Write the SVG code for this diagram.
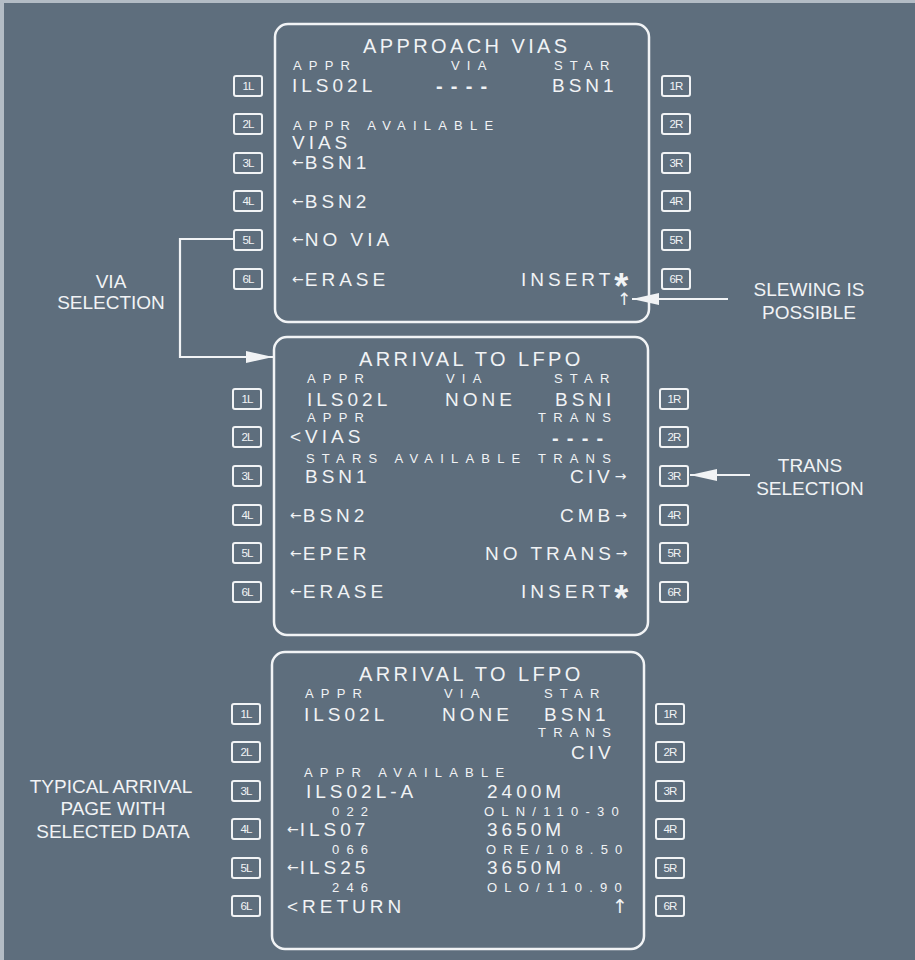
<svg xmlns="http://www.w3.org/2000/svg" width="915" height="960" viewBox="0 0 915 960">
<style>
text{font-family:"Liberation Sans",Arial,sans-serif;fill:#f1f3f5}
.scr{fill:none;stroke:#f1f3f5;stroke-width:2.5}
.btn{fill:none;stroke:#f1f3f5;stroke-width:2}
.bt{font-size:11.5px;letter-spacing:-0.8px;text-anchor:middle}
.ti{font-size:20px;letter-spacing:3.4px}
.sm{font-size:13px;letter-spacing:7.2px}
.bg{font-size:19px;letter-spacing:4px}
.ds{font-size:20px;font-weight:bold;letter-spacing:8.2px}
.ar{font-family:"DejaVu Sans",sans-serif;font-size:14px;letter-spacing:1px}
.up{font-family:"DejaVu Sans",sans-serif;text-anchor:middle}
.st{font-size:36px;font-weight:bold}
.lb{font-size:19px;text-anchor:middle}
.cn{fill:none;stroke:#f1f3f5;stroke-width:2.2}
</style>
<defs>
<marker id="ah" markerUnits="userSpaceOnUse" markerWidth="28" markerHeight="14" refX="27" refY="6" orient="auto">
<path d="M0,0 L27,6 L0,12 z" fill="#f1f3f5"/>
</marker>
</defs>
<rect width="915" height="960" fill="#b3bcc5"/>
<rect x="4" y="3" width="911" height="957" fill="#5e6e7d"/>

<g id="screen-approach-vias">
<rect class="scr" x="275" y="24" width="374" height="298" rx="13"/>
<g>
<rect class="btn" x="234" y="76" width="28" height="20" rx="2"/><text class="bt" x="248" y="90">1L</text>
<rect class="btn" x="234" y="114" width="28" height="20" rx="2"/><text class="bt" x="248" y="128">2L</text>
<rect class="btn" x="234" y="153" width="28" height="20" rx="2"/><text class="bt" x="248" y="167">3L</text>
<rect class="btn" x="234" y="191" width="28" height="20" rx="2"/><text class="bt" x="248" y="205">4L</text>
<rect class="btn" x="234" y="230" width="28" height="20" rx="2"/><text class="bt" x="248" y="244">5L</text>
<rect class="btn" x="234" y="269" width="28" height="20" rx="2"/><text class="bt" x="248" y="283">6L</text>
<rect class="btn" x="662" y="76" width="28" height="20" rx="2"/><text class="bt" x="676" y="90">1R</text>
<rect class="btn" x="662" y="114" width="28" height="20" rx="2"/><text class="bt" x="676" y="128">2R</text>
<rect class="btn" x="662" y="153" width="28" height="20" rx="2"/><text class="bt" x="676" y="167">3R</text>
<rect class="btn" x="662" y="191" width="28" height="20" rx="2"/><text class="bt" x="676" y="205">4R</text>
<rect class="btn" x="662" y="230" width="28" height="20" rx="2"/><text class="bt" x="676" y="244">5R</text>
<rect class="btn" x="662" y="269" width="28" height="20" rx="2"/><text class="bt" x="676" y="283">6R</text>
</g>
<text class="ti" x="363" y="53">APPROACH VIAS</text>
<text class="sm" x="293" y="70">APPR</text>
<text class="sm" x="451" y="70">VIA</text>
<text class="sm" x="554" y="70">STAR</text>
<text class="bg" x="292" y="92">ILS02L</text>
<text class="ds" x="436" y="93">----</text>
<text class="bg" x="552" y="92">BSN1</text>
<text class="sm" x="293" y="130">APPR AVAILABLE</text>
<text class="bg" x="292" y="149">VIAS</text>
<text class="bg" x="292" y="169"><tspan class="ar" dy="-2.5">←</tspan><tspan dy="2.5">BSN1</tspan></text>
<text class="bg" x="292" y="208"><tspan class="ar" dy="-2.5">←</tspan><tspan dy="2.5">BSN2</tspan></text>
<text class="bg" x="292" y="246"><tspan class="ar" dy="-2.5">←</tspan><tspan dy="2.5">NO VIA</tspan></text>
<text class="bg" x="292" y="286"><tspan class="ar" dy="-2.5">←</tspan><tspan dy="2.5">ERASE</tspan></text>
<text class="bg" x="521" y="286">INSERT<tspan class="st" dy="13">*</tspan></text>
<text class="up" x="624" y="305" font-size="17">↑</text>
</g>

<g id="screen-arrival-select">
<rect class="scr" x="274" y="337" width="374" height="298" rx="13"/>
<g>
<rect class="btn" x="233" y="389" width="28" height="20" rx="2"/><text class="bt" x="247" y="403">1L</text>
<rect class="btn" x="233" y="427" width="28" height="20" rx="2"/><text class="bt" x="247" y="441">2L</text>
<rect class="btn" x="233" y="466" width="28" height="20" rx="2"/><text class="bt" x="247" y="480">3L</text>
<rect class="btn" x="233" y="505" width="28" height="20" rx="2"/><text class="bt" x="247" y="519">4L</text>
<rect class="btn" x="233" y="543" width="28" height="20" rx="2"/><text class="bt" x="247" y="557">5L</text>
<rect class="btn" x="233" y="582" width="28" height="20" rx="2"/><text class="bt" x="247" y="596">6L</text>
<rect class="btn" x="660" y="389" width="28" height="20" rx="2"/><text class="bt" x="674" y="403">1R</text>
<rect class="btn" x="660" y="427" width="28" height="20" rx="2"/><text class="bt" x="674" y="441">2R</text>
<rect class="btn" x="660" y="466" width="28" height="20" rx="2"/><text class="bt" x="674" y="480">3R</text>
<rect class="btn" x="660" y="505" width="28" height="20" rx="2"/><text class="bt" x="674" y="519">4R</text>
<rect class="btn" x="660" y="543" width="28" height="20" rx="2"/><text class="bt" x="674" y="557">5R</text>
<rect class="btn" x="660" y="582" width="28" height="20" rx="2"/><text class="bt" x="674" y="596">6R</text>
</g>
<text class="ti" x="359" y="366">ARRIVAL TO LFPO</text>
<text class="sm" x="307" y="383">APPR</text>
<text class="sm" x="446" y="383">VIA</text>
<text class="sm" x="554" y="383">STAR</text>
<text class="bg" x="307" y="406">ILS02L</text>
<text class="bg" x="445" y="406">NONE</text>
<text class="bg" x="555" y="406">BSNI</text>
<text class="sm" x="307" y="422">APPR</text>
<text class="sm" x="538" y="422">TRANS</text>
<text class="bg" x="290" y="443">&lt;VIAS</text>
<text class="ds" x="552" y="445">----</text>
<text class="sm" x="306" y="463">STARS AVAILABLE TRANS</text>
<text class="bg" x="305" y="483">BSN1</text>
<text class="bg" x="570" y="483">CIV<tspan class="ar" dx="1" dy="-2.5">→</tspan></text>
<text class="bg" x="290" y="522"><tspan class="ar" dy="-2.5">←</tspan><tspan dy="2.5">BSN2</tspan></text>
<text class="bg" x="560" y="522">CMB<tspan class="ar" dx="1" dy="-2.5">→</tspan></text>
<text class="bg" x="290" y="560"><tspan class="ar" dy="-2.5">←</tspan><tspan dy="2.5">EPER</tspan></text>
<text class="bg" x="485" y="560">NO TRANS<tspan class="ar" dx="1" dy="-2.5">→</tspan></text>
<text class="bg" x="290" y="598"><tspan class="ar" dy="-2.5">←</tspan><tspan dy="2.5">ERASE</tspan></text>
<text class="bg" x="521" y="598">INSERT<tspan class="st" dy="13">*</tspan></text>
</g>

<g id="screen-arrival-typical">
<rect class="scr" x="272" y="652" width="372" height="297" rx="13"/>
<g>
<rect class="btn" x="232" y="704" width="28" height="20" rx="2"/><text class="bt" x="246" y="718">1L</text>
<rect class="btn" x="232" y="742" width="28" height="20" rx="2"/><text class="bt" x="246" y="756">2L</text>
<rect class="btn" x="232" y="781" width="28" height="20" rx="2"/><text class="bt" x="246" y="795">3L</text>
<rect class="btn" x="232" y="819" width="28" height="20" rx="2"/><text class="bt" x="246" y="833">4L</text>
<rect class="btn" x="232" y="858" width="28" height="20" rx="2"/><text class="bt" x="246" y="872">5L</text>
<rect class="btn" x="232" y="896" width="28" height="20" rx="2"/><text class="bt" x="246" y="910">6L</text>
<rect class="btn" x="656" y="704" width="28" height="20" rx="2"/><text class="bt" x="670" y="718">1R</text>
<rect class="btn" x="656" y="742" width="28" height="20" rx="2"/><text class="bt" x="670" y="756">2R</text>
<rect class="btn" x="656" y="781" width="28" height="20" rx="2"/><text class="bt" x="670" y="795">3R</text>
<rect class="btn" x="656" y="819" width="28" height="20" rx="2"/><text class="bt" x="670" y="833">4R</text>
<rect class="btn" x="656" y="858" width="28" height="20" rx="2"/><text class="bt" x="670" y="872">5R</text>
<rect class="btn" x="656" y="896" width="28" height="20" rx="2"/><text class="bt" x="670" y="910">6R</text>
</g>
<text class="ti" x="359" y="681">ARRIVAL TO LFPO</text>
<text class="sm" x="305" y="698">APPR</text>
<text class="sm" x="444" y="698">VIA</text>
<text class="sm" x="544" y="698">STAR</text>
<text class="bg" x="304" y="721">ILS02L</text>
<text class="bg" x="442" y="721">NONE</text>
<text class="bg" x="544" y="721">BSN1</text>
<text class="sm" x="538" y="737">TRANS</text>
<text class="bg" x="571" y="759">CIV</text>
<text class="sm" x="304" y="777">APPR AVAILABLE</text>
<text class="bg" x="306" y="798">ILS02L-A</text>
<text class="bg" x="487" y="798">2400M</text>
<text class="sm" x="332" y="816">022</text>
<text class="sm" x="484" y="816">OLN/110-30</text>
<text class="bg" x="287" y="836"><tspan class="ar" dy="-2.5">←</tspan><tspan dy="2.5">ILS07</tspan></text>
<text class="bg" x="487" y="836">3650M</text>
<text class="sm" x="332" y="854">066</text>
<text class="sm" x="486" y="854">ORE/108.50</text>
<text class="bg" x="287" y="874"><tspan class="ar" dy="-2.5">←</tspan><tspan dy="2.5">ILS25</tspan></text>
<text class="bg" x="487" y="874">3650M</text>
<text class="sm" x="332" y="892">246</text>
<text class="sm" x="487" y="892">OLO/110.90</text>
<text class="bg" x="287" y="913">&lt;RETURN</text>
<text class="up" x="620" y="913" font-size="19">↑</text>
</g>

<g id="label-via-selection">
<text class="lb" x="111" y="288">VIA</text>
<text class="lb" x="111" y="309">SELECTION</text>
</g>
<g id="label-slewing">
<text class="lb" x="809" y="296">SLEWING IS</text>
<text class="lb" x="809" y="319">POSSIBLE</text>
</g>
<g id="label-trans-selection">
<text class="lb" x="810" y="472">TRANS</text>
<text class="lb" x="810" y="495">SELECTION</text>
</g>
<g id="label-typical">
<text class="lb" x="111" y="793">TYPICAL ARRIVAL</text>
<text class="lb" x="113" y="815">PAGE WITH</text>
<text class="lb" x="113" y="838">SELECTED DATA</text>
</g>

<g id="connectors">
<polyline class="cn" points="233,239 180,239 180,357 273,357" marker-end="url(#ah)"/>
<line class="cn" x1="728" y1="299" x2="632" y2="299" marker-end="url(#ah)"/>
<line class="cn" x1="750" y1="475" x2="690" y2="475" marker-end="url(#ah)"/>
</g>
</svg>
